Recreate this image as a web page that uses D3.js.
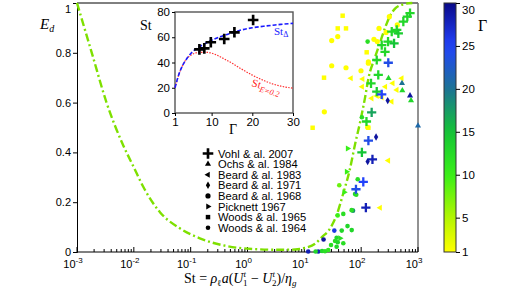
<!DOCTYPE html>
<html>
<head>
<meta charset="utf-8">
<script src="https://cdn.jsdelivr.net/npm/d3@7"></script>
<style>
  html, body { margin: 0; padding: 0; background: #fff; }
  svg { display: block; }
</style>
</head>
<body>
<svg id="chart" width="512" height="290"></svg>
<script>
// E_d vs Stokes number, coloured by Γ, with an inset St(Γ).

// main dash-dot curve
const curveSt = [0.001, 0.00182, 0.00331, 0.00646, 0.01, 0.0148, 0.0288, 0.0646, 0.145, 0.427, 1.26, 3.16, 6.9, 10, 15.8, 20.4, 27.5, 37.2, 49, 63, 77.6, 95.5, 117, 135, 174, 214, 263, 316, 407, 562, 794];
const curveE  = [1, 0.80, 0.60, 0.43, 0.34, 0.26, 0.16, 0.095, 0.055, 0.024, 0.012, 0.009, 0.010, 0.016, 0.035, 0.06, 0.09, 0.15, 0.24, 0.33, 0.43, 0.52, 0.62, 0.70, 0.78, 0.84, 0.90, 0.945, 0.98, 0.995, 1.0];

// scatter series: [St, E, Γ]
const vohl2007 = [[724,0.959,13],[649,0.945,13],[552,0.925,13],[423,0.892,13],[451,0.878,14],[345,0.885,13],[297,0.845,13],[379,0.838,15],[263,0.804,13],[230,0.831,13],[188,0.771,13],[300,0.760,24],[200,0.711,13],[149,0.677,13],[188,0.644,14],[230,0.633,25],[153,0.561,17],[124,0.524,13],[134,0.447,24],[103,0.400,15],[158,0.372,28],[109,0.282,25],[81,0.252,24],[121,0.178,28]];
const ochs1984 = [[303,0.698,13],[523,0.678,20],[530,0.649,13],[724,0.628,29],[754,0.608,13],[1000,0.507,21]];
const beard1983 = [[66,0.698,1],[106,0.695,1],[104,0.664,1],[153,0.617,1],[230,0.621,1],[190,0.627,1],[344,0.604,1],[359,0.678,1],[517,0.698,1],[423,0.651,1],[266,0.664,1],[300,0.367,1],[215,0.178,1]];
const beard1971 = [[293,0.608,29],[183,0.462,29],[130,0.363,29]];
const beard1968 = [[30.3,0.849,1],[38.7,0.865,1],[30.3,0.748,1],[54.1,0.740,1],[99.3,0.728,1],[134,0.758,1],[22.5,0.563,1],[130,0.501,1],[313,0.945,1],[432,0.912,1],[206,0.898,1],[274,0.882,1],[168,0.854,1],[192,0.845,1],[134,0.764,1]];
const picknett1967 = [[57.8,0.416,10],[55.5,0.322,10],[50.4,0.240,10],[42.5,0.055,12]];
const woods1965 = [[47.2,0.949,1],[38.7,0.898,1],[54.1,0.898,1],[125,0.802,1],[22.2,0.700,1],[14.0,0.499,1],[134,0.499,1]];
const woods1964 = [[103,0.541,12],[86.9,0.292,12],[41.2,0.268,8],[78,0.233,13],[82,0.230,12],[71.9,0.166,18],[68,0.168,12],[38.6,0.147,10],[48.5,0.153,12],[33.7,0.086,26],[45.5,0.086,13],[57.5,0.104,13],[68.2,0.088,13],[21.8,0.050,29],[37,0.057,13],[34.7,0.044,12],[38.7,0.039,13],[48.5,0.035,12],[29.5,0.028,12],[37,0.021,13],[26.4,0.008,11],[11.7,0.002,28],[17.6,0.002,28],[15.8,0.002,13],[20.5,0.004,13],[23.1,0.003,12],[130,0.845,12]];

// inset: St vs Γ
const insetGamma = [1, 2, 3, 4, 5, 7, 9, 11, 13, 15, 17, 20, 23, 25, 27, 30];
const stDelta    = [20, 31, 38.5, 43.5, 47.5, 52.5, 56, 59, 61.5, 63.5, 65.5, 67.5, 68.8, 69.5, 70.2, 71];
const stE02      = [20, 31, 38.5, 43.5, 46, 48, 48, 46.2, 43, 39.5, 35.5, 30, 25.5, 23, 21.3, 19.6];
const insetVohl  = [[7.0,50.4],[8.2,51.2],[9.8,56],[13.1,58.6],[15.6,63.9],[20.2,73.7]];

const xTicks = [1e-3, 1e-2, 1e-1, 1e0, 1e1, 1e2, 1e3];
const xExp = ['-3', '-2', '-1', '0', '1', '2', '3'];
const yTicks = [0, 0.2, 0.4, 0.6, 0.8, 1];
const gammaTicks = [1, 5, 10, 15, 20, 25, 30];
const insetXTicks = [1, 10, 20, 30];
const insetYTicks = [0, 20, 40, 60, 80];

const legendNames = ['Vohl & al. 2007', 'Ochs & al. 1984', 'Beard & al. 1983', 'Beard & al. 1971',
                     'Beard & al. 1968', 'Picknett 1967', 'Woods & al. 1965', 'Woods & al. 1964'];
const legendShapes = ['cross', 'triUp', 'triLeft', 'diamond', 'circle', 'triRight', 'square', 'dot'];

const svg = d3.select('#chart');
const SANS = 'Liberation Sans, Arial, sans-serif';
const SERIF = 'Liberation Serif, Times New Roman, serif';

const x = d3.scaleLog().domain([1e-3, 1e3]).range([77, 418]);
const y = d3.scaleLinear().domain([0, 1]).range([252, 3]);
const gCol = d3.scaleLinear()
  .domain([1, 5, 10, 15, 20, 25, 30])
  .range(['#ffff00', '#b4f500', '#38f018', '#14c436', '#1c7394', '#2242fb', '#0a0a88']);

// frame
svg.append('line').attr('x1', 77).attr('x2', 418).attr('y1', 3).attr('y2', 3).attr('stroke', '#000').attr('stroke-width', 1);
svg.append('line').attr('x1', 418).attr('x2', 418).attr('y1', 3).attr('y2', 252).attr('stroke', '#777').attr('stroke-width', 1.6);

// axes
const yAxis = svg.append('g').attr('transform', 'translate(77,0)')
  .call(d3.axisLeft(y).tickValues(yTicks).tickSize(4).tickPadding(2).tickFormat(d => d === 0 || d === 1 ? d : d.toFixed(1)));
yAxis.selectAll('text').attr('font-family', SANS).attr('font-size', 11).attr('fill', '#000');
yAxis.selectAll('.tick text').filter(d => d === 1).attr('dy', '0.9em');

const xAxis = svg.append('g').attr('transform', 'translate(0,252)');
xAxis.append('line').attr('x1', 77).attr('x2', 418).attr('stroke', '#000');
const minors = [];
for (let e = -3; e < 3; e++) for (let k = 2; k <= 9; k++) minors.push(k * Math.pow(10, e));
xAxis.selectAll('line.minor').data(minors).enter().append('line').attr('class', 'minor')
  .attr('x1', d => x(d)).attr('x2', d => x(d)).attr('y1', 0).attr('y2', -3).attr('stroke', '#000');
xAxis.selectAll('line.major').data(xTicks).enter().append('line').attr('class', 'major')
  .attr('x1', d => x(d)).attr('x2', d => x(d)).attr('y1', -5).attr('y2', 0).attr('stroke', '#000');
xTicks.forEach((d, i) => {
  const t = xAxis.append('text').attr('x', x(d) - 4).attr('y', 16).attr('text-anchor', 'middle')
    .attr('font-family', SANS).attr('font-size', 11);
  t.append('tspan').text('10');
  t.append('tspan').attr('font-size', 8).attr('dy', -5).text(xExp[i]);
});

// main curve
const line = d3.line().x(d => x(d[0])).y(d => y(d[1])).curve(d3.curveMonotoneX);
svg.append('path').datum(curveSt.map((s, i) => [s, curveE[i]])).attr('d', line)
  .attr('fill', 'none').attr('stroke', '#7ee000').attr('stroke-width', 2.4).attr('stroke-dasharray', '8,3,2,3');

// markers
function marker(sel, shape, cx, cy, fill, big) {
  const k = big ? 1.15 : 1;
  if (shape === 'cross') {
    const h = 4.6 * k;
    sel.append('path').attr('d', `M${cx - h},${cy}H${cx + h}M${cx},${cy - h}V${cy + h}`)
      .attr('stroke', fill).attr('stroke-width', 2.3 * k).attr('fill', 'none');
    return;
  }
  if (shape === 'circle' || shape === 'dot') {
    sel.append('circle').attr('cx', cx).attr('cy', cy).attr('r', (shape === 'circle' ? 2.6 : 2.3) * k).attr('fill', fill);
    return;
  }
  const types = { triUp: d3.symbolTriangle, triLeft: d3.symbolTriangle, triRight: d3.symbolTriangle, diamond: d3.symbolDiamond, square: d3.symbolSquare };
  const rot = { triUp: 0, triLeft: -90, triRight: 90, diamond: 0, square: 0 };
  const size = { triUp: 16, triLeft: 16, triRight: 16, diamond: 16, square: 20 };
  sel.append('path').attr('d', d3.symbol().type(types[shape]).size(size[shape] * k * k)())
    .attr('transform', `translate(${cx},${cy}) rotate(${rot[shape]})`).attr('fill', fill);
}

const pts = svg.append('g');
const series = [[woods1964, 'dot'], [woods1965, 'square'], [beard1968, 'circle'], [picknett1967, 'triRight'],
                [beard1983, 'triLeft'], [beard1971, 'diamond'], [ochs1984, 'triUp'], [vohl2007, 'cross']];
series.forEach(([data, shape]) => {
  data.forEach(d => marker(pts, shape, x(d[0]), y(d[1]), gCol(d[2])));
});

// axis labels
const ed = svg.append('text').attr('x', 40).attr('y', 29).attr('font-family', SERIF).attr('font-size', 15).attr('font-style', 'italic');
ed.append('tspan').text('E');
ed.append('tspan').attr('font-size', 10).attr('dy', 3).text('d');

const xl = svg.append('text').attr('x', 184).attr('y', 283).attr('font-family', SERIF).attr('font-size', 14);
xl.append('tspan').text('St = ');
xl.append('tspan').attr('font-style', 'italic').text('ρ');
xl.append('tspan').attr('font-size', 9).attr('dy', 3).text('ℓ');
xl.append('tspan').attr('font-style', 'italic').attr('dy', -3).text('a');
xl.append('tspan').text('(');
xl.append('tspan').attr('font-style', 'italic').text('U');
xl.append('tspan').attr('font-size', 9).attr('font-style', 'italic').attr('dy', -6).text('t');
xl.append('tspan').attr('font-size', 9).attr('dx', -3).attr('dy', 9).text('1');
xl.append('tspan').attr('dy', -3).text(' − ');
xl.append('tspan').attr('font-style', 'italic').text('U');
xl.append('tspan').attr('font-size', 9).attr('font-style', 'italic').attr('dy', -6).text('t');
xl.append('tspan').attr('font-size', 9).attr('dx', -3).attr('dy', 9).text('2');
xl.append('tspan').attr('dy', -3).text(')/');
xl.append('tspan').attr('font-style', 'italic').text('η');
xl.append('tspan').attr('font-size', 9).attr('font-style', 'italic').attr('dy', 3).text('g');

// legend
const leg = svg.append('g');
legendNames.forEach((name, i) => {
  const cy = 153.5 + i * 10.6;
  marker(leg, legendShapes[i], 208, cy, '#000', i === 0);
  leg.append('text').attr('x', 218).attr('y', cy + 4).attr('font-family', SANS).attr('font-size', 11.2).text(name);
});

// inset
const ix = d3.scaleLinear().domain([1, 30]).range([175, 293]);
const iy = d3.scaleLinear().domain([0, 80]).range([113, 12]);
const ins = svg.append('g');
ins.append('rect').attr('x', 175).attr('y', 12).attr('width', 118).attr('height', 101)
  .attr('fill', '#fff').attr('stroke', '#555').attr('stroke-width', 1.4);
const iya = ins.append('g').attr('transform', 'translate(175,0)')
  .call(d3.axisLeft(iy).tickValues(insetYTicks).tickSize(3).tickPadding(2));
iya.select('.domain').remove();
iya.selectAll('text').attr('font-family', SANS).attr('font-size', 11.5).attr('fill', '#000');
const ixa = ins.append('g').attr('transform', 'translate(0,113)')
  .call(d3.axisBottom(ix).tickValues(insetXTicks).tickSize(3).tickPadding(2));
ixa.select('.domain').remove();
ixa.selectAll('text').attr('font-family', SANS).attr('font-size', 11.5).attr('fill', '#000');

const iline = d3.line().x(d => ix(d[0])).y(d => iy(d[1])).curve(d3.curveMonotoneX);
ins.append('path').datum(insetGamma.map((g, i) => [g, stE02[i]])).attr('d', iline)
  .attr('fill', 'none').attr('stroke', '#ff3030').attr('stroke-width', 1.2).attr('stroke-dasharray', '1.5,1.3');
ins.append('path').datum(insetGamma.map((g, i) => [g, stDelta[i]])).attr('d', iline)
  .attr('fill', 'none').attr('stroke', '#1a1aff').attr('stroke-width', 1.6).attr('stroke-dasharray', '4,2');
insetVohl.forEach(d => marker(ins, 'cross', ix(d[0]), iy(d[1]), '#000', true));

ins.append('text').attr('x', 140).attr('y', 30).attr('font-family', SERIF).attr('font-size', 14).text('St');
ins.append('text').attr('x', 229).attr('y', 134).attr('font-family', SERIF).attr('font-size', 14).text('Γ');
const sd = ins.append('text').attr('x', 274).attr('y', 35).attr('font-family', SERIF).attr('font-size', 11).attr('fill', '#1a1aff');
sd.append('tspan').text('St');
sd.append('tspan').attr('font-size', 8).attr('dy', 2).text('Δ');
const se = ins.append('text').attr('transform', 'translate(251,86) rotate(16)').attr('font-family', SERIF)
  .attr('font-size', 11).attr('fill', '#ff2020');
se.append('tspan').text('St');
se.append('tspan').attr('font-size', 8).attr('font-style', 'italic').attr('dy', 3).text('E=0.2');

// colorbar
const cyS = d3.scaleLinear().domain([1, 30]).range([252, 3]);
const grad = svg.append('defs').append('linearGradient').attr('id', 'cbar')
  .attr('x1', 0).attr('x2', 0).attr('y1', 1).attr('y2', 0);
d3.range(0, 1.0001, 0.05).forEach(t => {
  grad.append('stop').attr('offset', t).attr('stop-color', gCol(1 + 29 * t));
});
svg.append('rect').attr('x', 444).attr('y', 3).attr('width', 12).attr('height', 249)
  .attr('fill', 'url(#cbar)').attr('stroke', '#333').attr('stroke-width', 1);
const ca = svg.append('g').attr('transform', 'translate(456,0)')
  .call(d3.axisRight(cyS).tickValues(gammaTicks).tickSize(4).tickPadding(2));
ca.select('.domain').remove();
ca.selectAll('text').attr('font-family', SANS).attr('font-size', 11.5).attr('fill', '#000');
ca.selectAll('.tick text').filter(d => d === 30).attr('dy', '0.9em');
svg.append('text').attr('x', 478).attr('y', 31).attr('font-family', SERIF).attr('font-size', 16).text('Γ');
</script>
</body>
</html>
